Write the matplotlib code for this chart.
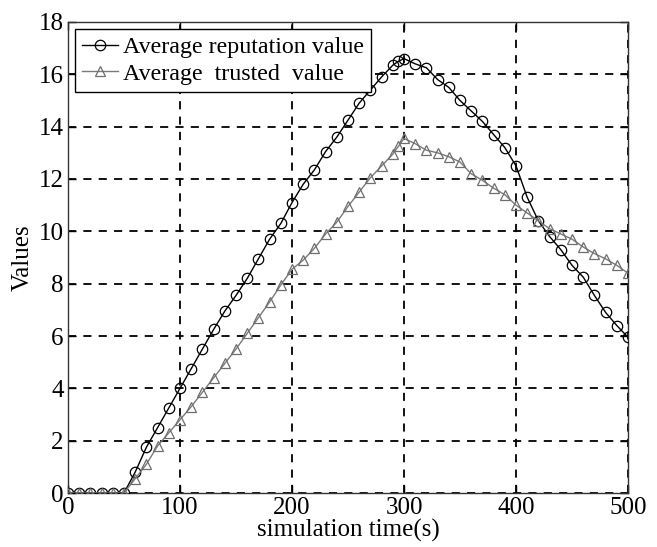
import matplotlib
matplotlib.use("Agg")
import matplotlib.pyplot as plt

# simulation time (s) and the two averaged series
time_s = [0, 10, 20, 30, 40, 50, 60, 70, 80, 90, 100, 110, 120, 130, 140, 150,
          160, 170, 180, 190, 200, 210, 220, 230, 240, 250, 260, 270, 280, 290,
          295, 300, 310, 320, 330, 340, 350, 360, 370, 380, 390, 400, 410, 420,
          430, 440, 450, 460, 470, 480, 490, 500]
reputation = [0, 0, 0, 0, 0, 0, 0.8, 1.75, 2.5, 3.25, 4.0, 4.75, 5.5, 6.25, 6.95,
              7.55, 8.2, 8.95, 9.7, 10.3, 11.1, 11.8, 12.35, 13.05, 13.6, 14.25,
              14.9, 15.4, 15.9, 16.35, 16.5, 16.6, 16.4, 16.25, 15.8, 15.5, 15.0,
              14.6, 14.2, 13.7, 13.2, 12.5, 11.3, 10.4, 9.8, 9.3, 8.7, 8.25, 7.55,
              6.9, 6.4, 5.95]
trusted = [0, 0, 0, 0, 0, 0, 0.55, 1.1, 1.8, 2.3, 2.8, 3.3, 3.85, 4.4, 4.95, 5.5,
           6.1, 6.7, 7.3, 7.95, 8.55, 8.9, 9.35, 9.9, 10.35, 10.95, 11.5, 12.05,
           12.5, 12.95, 13.25, 13.55, 13.35, 13.1, 13.0, 12.85, 12.65, 12.2, 11.95,
           11.65, 11.4, 11.0, 10.7, 10.4, 10.1, 9.9, 9.7, 9.4, 9.15, 8.95, 8.7, 8.4]

plt.rcParams['font.family'] = ['Liberation Serif', 'DejaVu Serif']

fig = plt.figure(figsize=(6.57, 5.47), dpi=100, facecolor='white')
ax = fig.add_axes([0.1035, 0.0987, 0.8524, 0.8611])

ax.plot(time_s, reputation, color='black', linewidth=1.0, marker='o',
        markersize=7.5, markerfacecolor='none', markeredgecolor='black',
        markeredgewidth=0.9, label='Average reputation value', zorder=3)
ax.plot(time_s, trusted, color='#7a7a7a', linewidth=1.0, marker='^',
        markersize=7.5, markerfacecolor='none', markeredgecolor='#6e6e6e',
        markeredgewidth=0.9, label='Average  trusted  value', zorder=3)

ax.set_xlim(0, 500)
ax.set_ylim(0, 18)
ax.set_xticks([0, 100, 200, 300, 400, 500])
ax.set_yticks(range(0, 19, 2))

ax.grid(True, color='black', linestyle=(0, (4.5, 4)), linewidth=1.3)
ax.tick_params(direction='in', top=True, right=True, length=6, width=1,
               labelsize=18, pad=3)
for spine in ax.spines.values():
    spine.set_linewidth(1.0)
    spine.set_color('#333333')

ax.set_xlabel('simulation time(s)', fontsize=18, labelpad=0)
ax.set_ylabel('Values', fontsize=18, labelpad=4)

leg = ax.legend(loc='upper left', fontsize=17.3, numpoints=1, handlelength=1.5,
                handletextpad=0.2, borderpad=0.3, labelspacing=0.2,
                borderaxespad=0.3, frameon=True, fancybox=False,
                edgecolor='black', framealpha=1)
leg.get_frame().set_linewidth(1.0)

fig.savefig('out.png', dpi=100)
